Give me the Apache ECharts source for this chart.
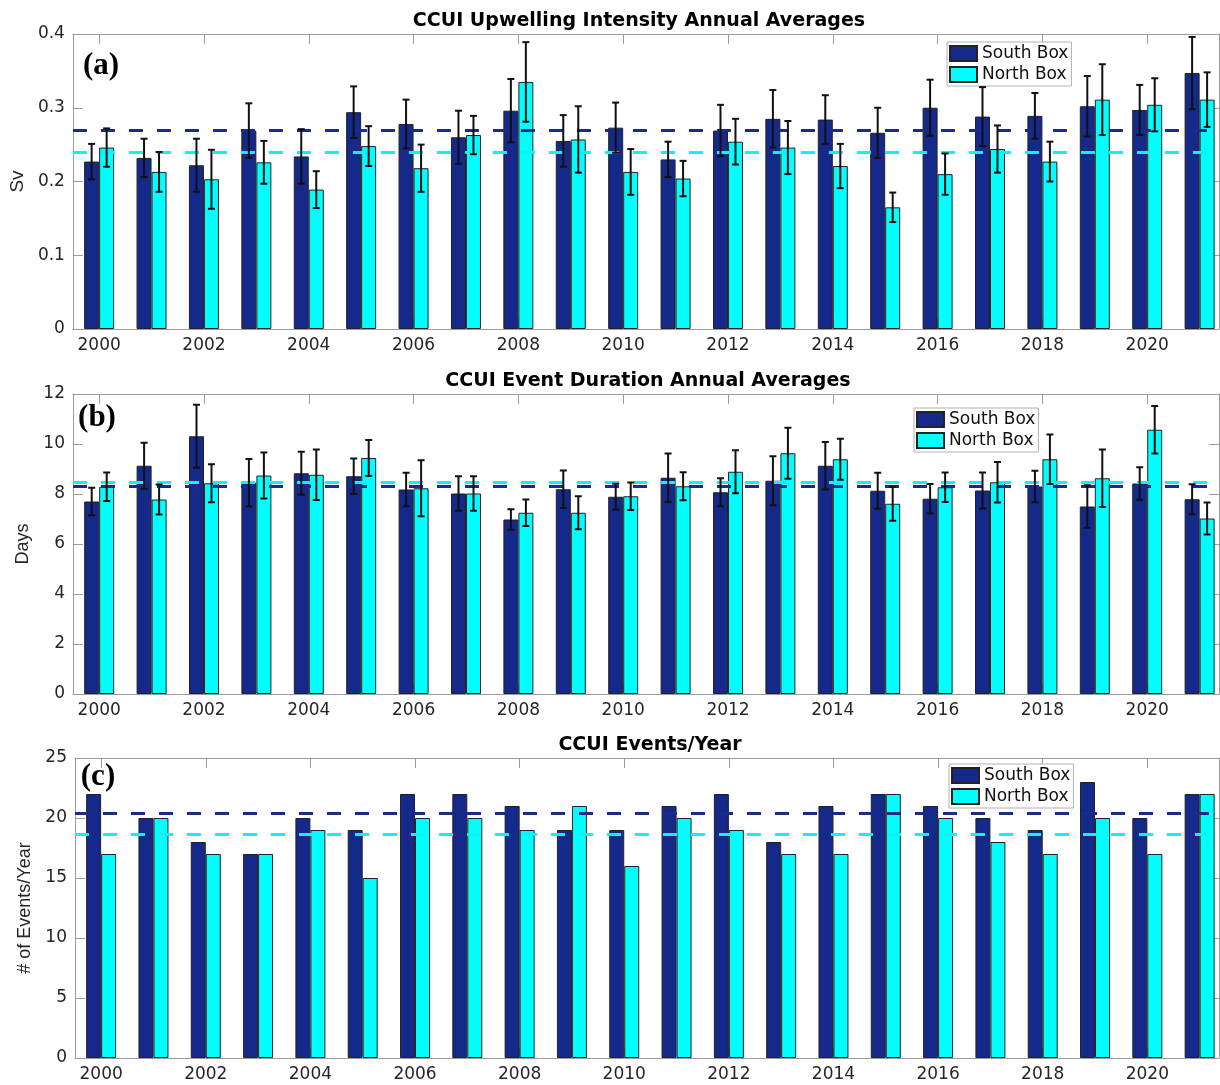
<!DOCTYPE html>
<html>
<head>
<meta charset="utf-8">
<title>CCUI annual averages</title>
<script src="https://cdn.jsdelivr.net/npm/echarts@6/dist/echarts.min.js"></script>
<style>
  html, body { margin: 0; padding: 0; background: #ffffff; }
  #chart { width: 1220px; height: 1085px; }
</style>
</head>
<body>
<div id="chart"></div>
<script>
// ---- data ----
const years = [2000, 2001, 2002, 2003, 2004, 2005, 2006, 2007, 2008, 2009, 2010,
               2011, 2012, 2013, 2014, 2015, 2016, 2017, 2018, 2019, 2020, 2021];
const tickYears = [2000, 2002, 2004, 2006, 2008, 2010, 2012, 2014, 2016, 2018, 2020];

// (a) upwelling intensity, Sv (mean and error half-width)
const intensitySouth    = [0.227, 0.232, 0.222, 0.269, 0.234, 0.294, 0.278, 0.260, 0.296, 0.255, 0.273,
                           0.230, 0.269, 0.285, 0.284, 0.266, 0.300, 0.288, 0.289, 0.302, 0.297, 0.347];
const intensitySouthErr = [0.024, 0.026, 0.036, 0.037, 0.037, 0.035, 0.033, 0.036, 0.043, 0.035, 0.034,
                           0.024, 0.035, 0.039, 0.033, 0.034, 0.038, 0.040, 0.031, 0.041, 0.034, 0.049];
const intensityNorth    = [0.246, 0.213, 0.203, 0.226, 0.189, 0.248, 0.218, 0.263, 0.335, 0.257, 0.213,
                           0.204, 0.254, 0.246, 0.221, 0.165, 0.210, 0.244, 0.227, 0.311, 0.304, 0.311];
const intensityNorthErr = [0.026, 0.027, 0.040, 0.029, 0.025, 0.027, 0.032, 0.026, 0.054, 0.045, 0.031,
                           0.024, 0.031, 0.036, 0.030, 0.020, 0.028, 0.032, 0.027, 0.048, 0.036, 0.037];

// (b) event duration, days
const durationSouth    = [7.70, 9.13, 10.31, 8.45, 8.83, 8.71, 8.18, 8.02, 6.98, 8.19, 7.89,
                          8.65, 8.07, 8.53, 9.13, 8.13, 7.81, 8.14, 8.30, 7.50, 8.42, 7.79];
const durationSouthErr = [0.55, 0.92, 1.26, 0.95, 0.86, 0.71, 0.67, 0.69, 0.41, 0.75, 0.52,
                          0.97, 0.56, 0.98, 0.95, 0.72, 0.59, 0.72, 0.63, 0.85, 0.65, 0.60];
const durationNorth    = [8.29, 7.78, 8.43, 8.74, 8.77, 9.44, 8.23, 8.02, 7.25, 7.25, 7.91,
                          8.31, 8.89, 9.63, 9.39, 7.61, 8.27, 8.47, 9.39, 8.63, 10.57, 7.02];
const durationNorthErr = [0.57, 0.60, 0.76, 0.92, 1.01, 0.72, 1.12, 0.69, 0.53, 0.66, 0.55,
                          0.56, 0.86, 1.02, 0.82, 0.68, 0.59, 0.81, 0.99, 1.15, 0.95, 0.64];

// (c) number of events per year
const eventsSouth = [22, 20, 18, 17, 20, 19, 22, 22, 21, 19, 19, 21, 22, 18, 21, 22, 21, 20, 19, 23, 20, 22];
const eventsNorth = [17, 20, 17, 17, 19, 15, 20, 20, 19, 21, 16, 20, 19, 17, 17, 22, 20, 18, 17, 20, 17, 22];

// ---- styling ----
const SOUTH = '#15298a';
const NORTH = '#00ffff';
const SOUTH_LINE = '#1a2b8c';
const NORTH_LINE = '#0ef2f6';
const BOX = '#9c9c9c';
const TEXT = '#262626';
const FONT = '"DejaVu Sans", Verdana, sans-serif';
const NAME_FONT = '"Liberation Sans", Arial, Helvetica, sans-serif';
const X_MIN = 1999.5, X_MAX = 2021.37;
const BAR_W = 15;

const mean = arr => arr.reduce((s, v) => s + v, 0) / arr.length;

const panels = [
  {
    grid: { left: 71, top: 34, width: 1148, height: 295 },
    y: { min: 0, max: 0.4, interval: 0.1 },
    yName: 'Sv', nameGap: 43, nameSize: 19,
    south: intensitySouth, north: intensityNorth,
    southErr: intensitySouthErr, northErr: intensityNorthErr,
    title: 'CCUI Upwelling Intensity Annual Averages', titleX: 639, titleY: 21,
    tag: '(a)', tagX: 101, tagY: 66,
    legend: { left: 947, top: 42 }
  },
  {
    grid: { left: 73, top: 394, width: 1146, height: 300 },
    y: { min: 0, max: 12, interval: 2 },
    yName: 'Days', nameGap: 36, nameSize: 18,
    south: durationSouth, north: durationNorth,
    southErr: durationSouthErr, northErr: durationNorthErr,
    title: 'CCUI Event Duration Annual Averages', titleX: 648, titleY: 381,
    tag: '(b)', tagX: 97, tagY: 418,
    legend: { left: 914, top: 408 }
  },
  {
    grid: { left: 75, top: 758, width: 1144, height: 300 },
    y: { min: 0, max: 25, interval: 5 },
    yName: '# of Events/Year', nameGap: 36, nameSize: 18,
    south: eventsSouth, north: eventsNorth,
    southErr: null, northErr: null,
    title: 'CCUI Events/Year', titleX: 650, titleY: 745,
    tag: '(c)', tagX: 98, tagY: 777,
    legend: { left: 949, top: 764 }
  }
];

function xAxisFor(i, position) {
  const bottom = position === 'bottom';
  return {
    type: 'value', gridIndex: i, position: position,
    min: X_MIN, max: X_MAX,
    axisLine: { show: true, onZero: false, lineStyle: { color: BOX, width: 1 } },
    axisTick: { show: true, inside: true, length: 10, customValues: tickYears,
                lineStyle: { color: BOX, width: 1 } },
    axisLabel: bottom
      ? { show: true, customValues: tickYears, margin: 8, color: TEXT, fontSize: 17, fontFamily: FONT,
          formatter: v => String(v) }
      : { show: false },
    splitLine: { show: false }
  };
}

function yAxisFor(i, p, position) {
  const left = position === 'left';
  const axis = {
    type: 'value', gridIndex: i, position: position,
    min: p.y.min, max: p.y.max, interval: p.y.interval,
    axisLine: { show: true, onZero: false, lineStyle: { color: BOX, width: 1 } },
    axisTick: { show: true, inside: true, length: 10, lineStyle: { color: BOX, width: 1 } },
    axisLabel: left ? { show: true, margin: 8, color: TEXT, fontSize: 17, fontFamily: FONT } : { show: false },
    splitLine: { show: false }
  };
  if (left) {
    axis.name = p.yName;
    axis.nameLocation = 'middle';
    axis.nameGap = p.nameGap;
    axis.nameTextStyle = { color: TEXT, fontSize: p.nameSize, fontFamily: NAME_FONT };
  }
  return axis;
}

function barSeries(i, name, values, color, lineColor) {
  return {
    type: 'bar', name: name,
    xAxisIndex: 2 * i, yAxisIndex: 2 * i,
    data: years.map((yr, k) => [yr, values[k]]),
    barWidth: BAR_W, barGap: '0%',
    itemStyle: { color: color, borderColor: '#222222', borderWidth: 1 },
    z: 2,
    markLine: {
      silent: true, symbol: ['none', 'none'], z: 5,
      label: { show: false },
      lineStyle: { color: lineColor, width: 3, type: [14, 14] },
      emphasis: { disabled: true },
      data: [{ yAxis: mean(values) }]
    }
  };
}

function errorSeries(i, values, errs, dx) {
  return {
    type: 'custom', silent: true,
    xAxisIndex: 2 * i, yAxisIndex: 2 * i, z: 6,
    data: years.map((yr, k) => [yr, values[k] - errs[k], values[k] + errs[k]]),
    encode: { x: 0, y: [1, 2] },
    renderItem: function (params, api) {
      const lo = api.coord([api.value(0), api.value(1)]);
      const hi = api.coord([api.value(0), api.value(2)]);
      const x = lo[0] + dx;
      const cap = 3.5;
      const style = { stroke: '#111111', lineWidth: 2 };
      return {
        type: 'group',
        children: [
          { type: 'line', shape: { x1: x, y1: lo[1], x2: x, y2: hi[1] }, style: style },
          { type: 'line', shape: { x1: x - cap, y1: lo[1], x2: x + cap, y2: lo[1] }, style: style },
          { type: 'line', shape: { x1: x - cap, y1: hi[1], x2: x + cap, y2: hi[1] }, style: style }
        ]
      };
    }
  };
}

const grids = [], xAxes = [], yAxes = [], series = [], legends = [], graphics = [];

panels.forEach((p, i) => {
  grids.push(Object.assign({ containLabel: false }, p.grid));
  xAxes.push(xAxisFor(i, 'bottom'), xAxisFor(i, 'top'));
  yAxes.push(yAxisFor(i, p, 'left'), yAxisFor(i, p, 'right'));

  series.push(barSeries(i, 'South Box', p.south, SOUTH, SOUTH_LINE));
  series.push(barSeries(i, 'North Box', p.north, NORTH, NORTH_LINE));
  if (p.southErr) series.push(errorSeries(i, p.south, p.southErr, -BAR_W / 2));
  if (p.northErr) series.push(errorSeries(i, p.north, p.northErr, BAR_W / 2));

  legends.push({
    data: ['South Box', 'North Box'],
    orient: 'vertical', left: p.legend.left, top: p.legend.top,
    itemWidth: 27, itemHeight: 15, itemGap: 4,
    padding: [3, 3, 3, 2],
    borderColor: '#b0b0b0', borderWidth: 1, backgroundColor: '#ffffff',
    icon: 'rect', selectedMode: false,
    textStyle: { color: '#111111', fontSize: 17, fontFamily: FONT }
  });

  graphics.push({
    type: 'text', x: p.titleX, y: p.titleY, z: 10,
    style: { text: p.title, fill: '#000000', font: 'bold 19px ' + FONT,
             textAlign: 'center', textVerticalAlign: 'middle' }
  });
  graphics.push({
    type: 'text', x: p.tagX, y: p.tagY, z: 10,
    style: { text: p.tag, fill: '#000000', font: 'bold 31px "Liberation Serif", "Times New Roman", serif',
             textAlign: 'center', textVerticalAlign: 'middle' }
  });
});

const chart = echarts.init(document.getElementById('chart'), null, { renderer: 'canvas' });
chart.setOption({
  animation: false,
  backgroundColor: '#ffffff',
  grid: grids,
  xAxis: xAxes,
  yAxis: yAxes,
  legend: legends,
  series: series,
  graphic: graphics
});
</script>
</body>
</html>
